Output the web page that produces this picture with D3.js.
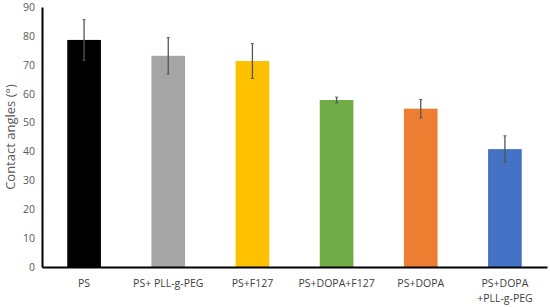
<!DOCTYPE html>
<html>
<head>
<meta charset="utf-8">
<script src="https://cdn.jsdelivr.net/npm/d3@7"></script>
<style>
  body { margin: 0; background: #fff; }
  text { font-family: "Open Sans", sans-serif; }
</style>
</head>
<body>
<div id="chart"></div>
<script>
// Datos
const categories = ["PS", "PS+ PLL-g-PEG", "PS+F127", "PS+DOPA+F127", "PS+DOPA", "PS+DOPA\n+PLL-g-PEG"];
const angles = [78.6, 73.1, 71.3, 57.8, 54.8, 40.8];
const errors = [7.0, 6.3, 6.0, 1.0, 3.2, 4.6];
const barColors = ["#000000", "#a5a5a5", "#ffc000", "#70ad47", "#ed7d31", "#4472c4"];
const yTicks = [0, 10, 20, 30, 40, 50, 60, 70, 80, 90];

const W = 550, H = 307;
const margin = {top: 7, right: 3, bottom: 40, left: 42};

const svg = d3.select("#chart").append("svg")
    .attr("width", W)
    .attr("height", H);

const x = d3.scaleBand()
    .domain(categories)
    .range([margin.left, W - margin.right])
    .paddingInner(0.6)
    .paddingOuter(0.3);

const y = d3.scaleLinear()
    .domain([0, 90])
    .range([H - margin.bottom, margin.top]);

// Barras
svg.selectAll(".bar")
    .data(categories)
    .enter()
    .append("rect")
    .attr("class", "bar")
    .attr("x", d => x(d))
    .attr("width", x.bandwidth())
    .attr("y", (d, i) => y(angles[i]))
    .attr("height", (d, i) => y(0) - y(angles[i]))
    .attr("fill", (d, i) => barColors[i]);

// Barras de error
const eb = svg.selectAll(".err")
    .data(categories)
    .enter()
    .append("g")
    .attr("class", "err")
    .attr("transform", d => "translate(" + (x(d) + x.bandwidth() / 2) + ",0)");

eb.append("line")
    .attr("y1", (d, i) => y(angles[i] + errors[i]))
    .attr("y2", (d, i) => y(angles[i] - errors[i]))
    .attr("stroke", "#555")
    .attr("stroke-width", 1.3);

eb.append("line")
    .attr("x1", -1.5).attr("x2", 1.5)
    .attr("y1", (d, i) => y(angles[i] + errors[i]))
    .attr("y2", (d, i) => y(angles[i] + errors[i]))
    .attr("stroke", "#555");

eb.append("line")
    .attr("x1", -1.5).attr("x2", 1.5)
    .attr("y1", (d, i) => y(angles[i] - errors[i]))
    .attr("y2", (d, i) => y(angles[i] - errors[i]))
    .attr("stroke", "#555");

// Eje Y
const yAxis = svg.append("g")
    .attr("transform", "translate(" + margin.left + ",0)")
    .call(d3.axisLeft(y).tickValues(yTicks).tickSize(0).tickPadding(7));
yAxis.select(".domain").attr("stroke", "#000").attr("stroke-width", 2);
yAxis.selectAll("text").attr("fill", "#595959").style("font-size", "10.5px");

// Eje X
const xAxis = svg.append("g")
    .attr("transform", "translate(0," + y(0) + ")")
    .call(d3.axisBottom(x).tickSize(0).tickPadding(13));
xAxis.select(".domain").attr("stroke", "#000").attr("stroke-width", 2);
xAxis.selectAll("text").attr("fill", "#404040").style("font-size", "10.5px")
    .each(function(d) {
        const t = d3.select(this);
        const lines = d.split("\n");
        t.text(null);
        lines.forEach((l, i) => {
            t.append("tspan").attr("x", 0).attr("dy", i === 0 ? "0.71em" : "1.35em").text(l);
        });
    });

// Titulo del eje Y
svg.append("text")
    .attr("transform", "translate(15," + ((margin.top + y(0)) / 2) + ") rotate(-90)")
    .attr("text-anchor", "middle")
    .attr("fill", "#595959")
    .style("font-size", "13px")
    .text("Contact angles (°)");
</script>
</body>
</html>
